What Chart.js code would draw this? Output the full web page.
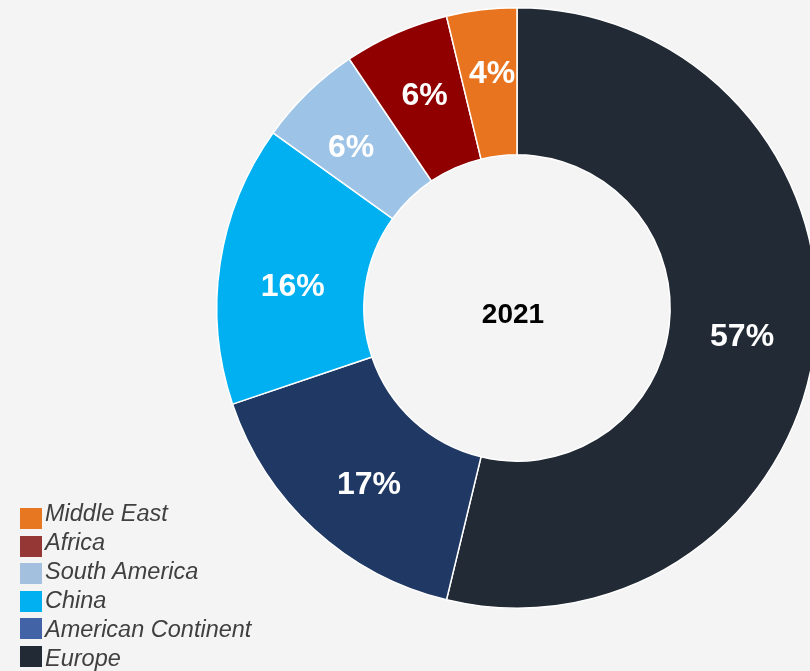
<!DOCTYPE html>
<html>
<head>
<meta charset="utf-8">
<script src="https://cdn.jsdelivr.net/npm/chart.js@4"></script>
<style>
  html, body { margin: 0; padding: 0; background: #f4f4f4; overflow: hidden; width: 810px; height: 671px; }
  #wrap { position: absolute; left: 0; top: 0; width: 1034px; height: 671px; }
  #swatches { position: absolute; left: 20px; top: 508px; }
  #swatches .sw { width: 22px; height: 21px; margin-bottom: 6.6px; }
  #names { position: absolute; left: 45px; top: 499px; font-family: "Liberation Sans", Arial, sans-serif; font-style: italic; font-size: 23.5px; line-height: 29px; color: #404040; white-space: nowrap; }
</style>
</head>
<body>
<div id="wrap"><canvas id="c" width="1034" height="671"></canvas></div>
<div id="swatches"></div>
<div id="names"></div>
<script>
// Regional shares for 2021, clockwise from 12 o'clock
const regions = ['Europe', 'American Continent', 'China', 'South America', 'Africa', 'Middle East'];
const shares = [57, 17, 16, 6, 6, 4];
const sliceColors = ['#222a35', '#1f3864', '#00b0f0', '#9dc3e6', '#900000', '#e97420'];
const legendColors = ['#222a35', '#4263a5', '#00b0f0', '#a3c1df', '#953735', '#e87722'];
const centerTitle = '2021';

// Percent labels sit at each slice's centre, with a small hand nudge per slice
const sliceLabels = {
  id: 'sliceLabels',
  afterDatasetsDraw(chart, args, opts) {
    const ctx = chart.ctx;
    const meta = chart.getDatasetMeta(0);
    ctx.save();
    ctx.textAlign = 'center';
    ctx.textBaseline = 'middle';
    ctx.fillStyle = '#ffffff';
    ctx.font = 'bold 32px "Liberation Sans", Arial, sans-serif';
    meta.data.forEach((arc, i) => {
      const p = arc.tooltipPosition();
      const n = opts.nudge[i] || [0, 0];
      ctx.fillText(shares[i] + '%', p.x + n[0], p.y + n[1]);
    });
    const first = meta.data[0];
    ctx.fillStyle = '#000000';
    ctx.font = 'bold 28px "Liberation Sans", Arial, sans-serif';
    ctx.fillText(centerTitle, first.x - 4, first.y + 7);
    ctx.restore();
  }
};

const chart = new Chart(document.getElementById('c'), {
  type: 'doughnut',
  data: {
    labels: regions,
    datasets: [{
      data: shares,
      backgroundColor: sliceColors,
      borderColor: '#ffffff',
      borderWidth: 1.5
    }]
  },
  options: {
    responsive: false,
    animation: false,
    devicePixelRatio: 1,
    cutout: '51%',
    layout: { padding: { top: 7, bottom: 62, left: 7, right: 7 } },
    plugins: {
      legend: { display: false },
      tooltip: { enabled: false },
      sliceLabels: { nudge: [[0, 2], [5, 10], [0, 13], [-8, 3], [-1, -4], [2, -9]] }
    }
  },
  plugins: [sliceLabels]
});

// Legend listed bottom-up relative to the drawing order
const swatchEl = document.getElementById('swatches');
const namesEl = document.getElementById('names');
regions.map((name, i) => ({ name, color: legendColors[i] })).reverse().forEach(item => {
  const sw = document.createElement('div');
  sw.className = 'sw';
  sw.style.background = item.color;
  swatchEl.appendChild(sw);
  const txt = document.createElement('div');
  txt.textContent = item.name;
  namesEl.appendChild(txt);
});
</script>
</body>
</html>
